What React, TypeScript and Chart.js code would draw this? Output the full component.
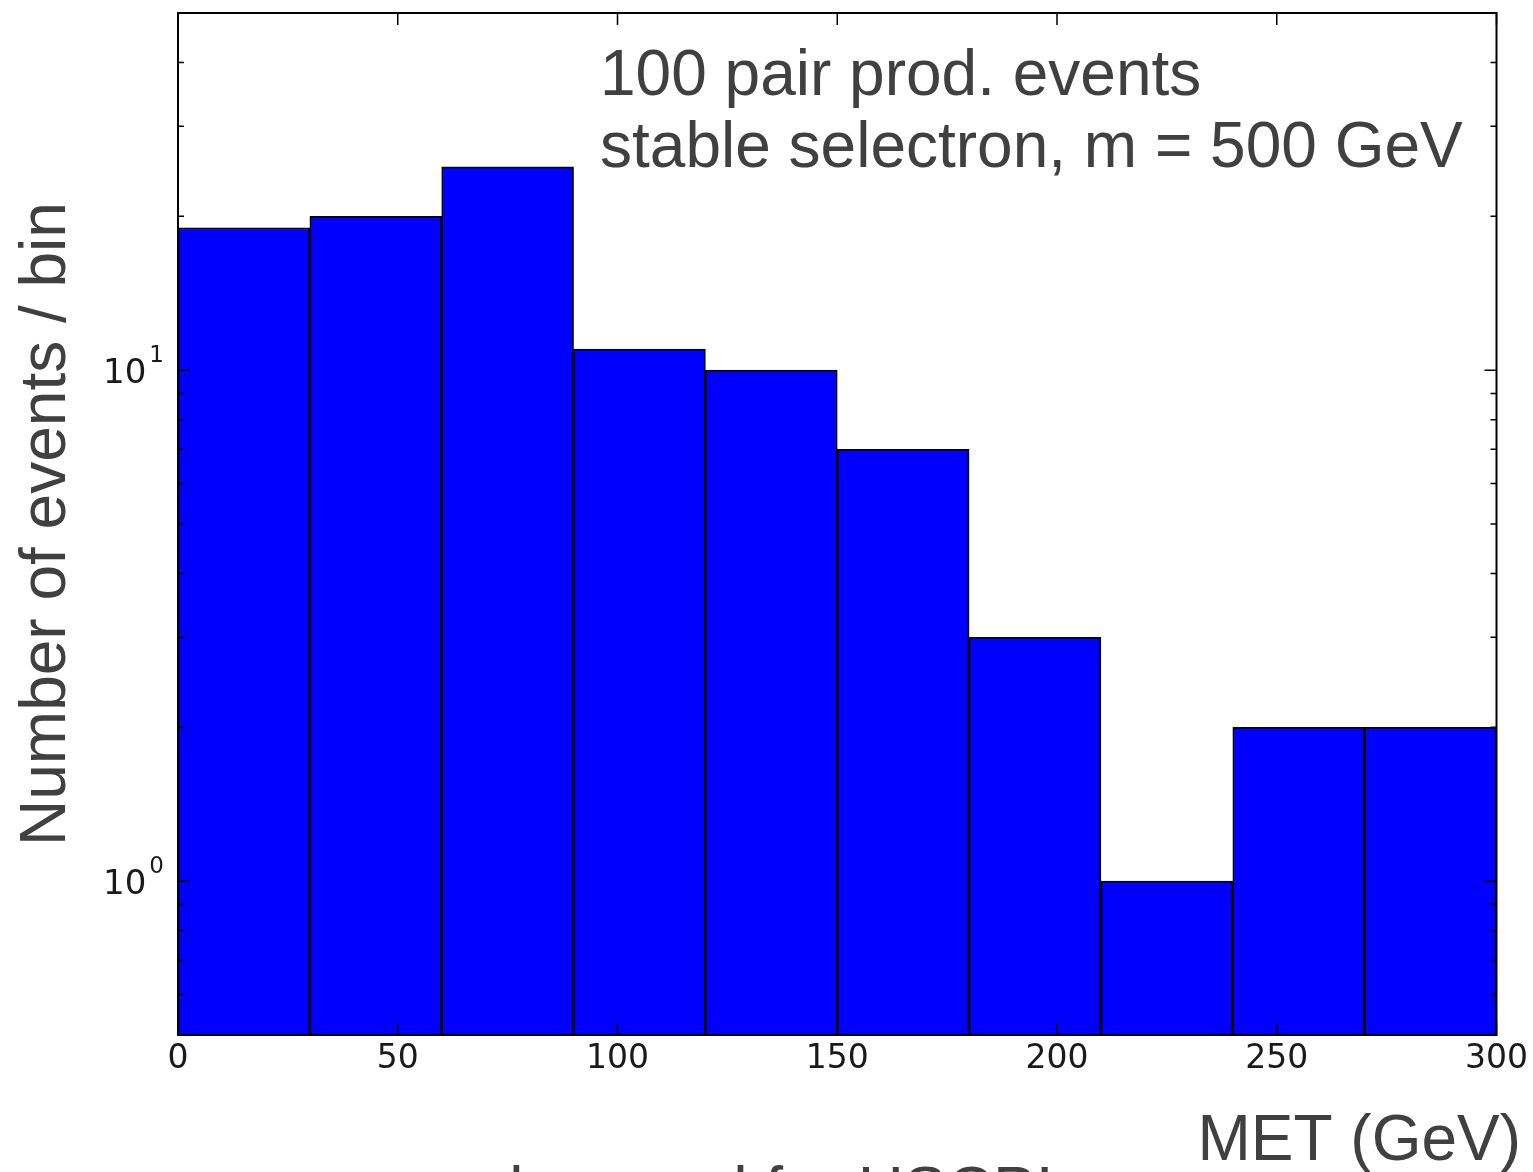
import React, { useEffect, useRef } from 'react';
import { Chart, registerables } from 'chart.js';

Chart.register(...registerables);

// ---- data ----
const binEdges = [0, 30, 60, 90, 120, 150, 180, 210, 240, 270, 300];
const counts = [19, 20, 25, 11, 10, 7, 3, 1, 2, 2];
const xTickValues = [0, 50, 100, 150, 200, 250, 300];
const yMajorTicks = [1, 10];
const yMajorExponents = ['0', '1'];
const yMinorTicks = [0.6, 0.7, 0.8, 0.9, 2, 3, 4, 5, 6, 7, 8, 9, 20, 30, 40];
const annotationLines = ['100 pair prod. events', 'stable selectron, m = 500 GeV'];
const xTitle = 'MET (GeV)';
const yTitle = 'Number of events / bin';
const footerText = 'was also used for HSCP!';

const W = 1533;
const H = 1172;
const TEXT_FONT = '"Liberation Sans", Arial, sans-serif';
const TICK_FONT = '"DejaVu Sans", sans-serif';

const decorPlugin = {
  id: 'decor',
  afterDraw(chart: any) {
    const { ctx, chartArea } = chart;
    const xs = chart.scales.x;
    const ys = chart.scales.y;
    const { left, right, top, bottom } = chartArea;
    ctx.save();

    // frame
    ctx.strokeStyle = '#000';
    ctx.lineWidth = 2;
    ctx.strokeRect(left, top, right - left, bottom - top);

    // x ticks (inward, bottom and top)
    ctx.lineWidth = 1.5;
    ctx.beginPath();
    xTickValues.forEach((v) => {
      const px = xs.getPixelForValue(v);
      ctx.moveTo(px, bottom);
      ctx.lineTo(px, bottom - 12);
      ctx.moveTo(px, top);
      ctx.lineTo(px, top + 12);
    });
    // y major ticks
    yMajorTicks.forEach((v) => {
      const py = ys.getPixelForValue(v);
      ctx.moveTo(left, py);
      ctx.lineTo(left + 12, py);
      ctx.moveTo(right, py);
      ctx.lineTo(right - 12, py);
    });
    // y minor ticks
    yMinorTicks.forEach((v) => {
      const py = ys.getPixelForValue(v);
      ctx.moveTo(left, py);
      ctx.lineTo(left + 6, py);
      ctx.moveTo(right, py);
      ctx.lineTo(right - 6, py);
    });
    ctx.stroke();

    // y tick labels 10^n
    ctx.fillStyle = '#1a1a1a';
    ctx.textBaseline = 'alphabetic';
    yMajorTicks.forEach((v, i) => {
      const py = ys.getPixelForValue(v);
      const supRight = left - 14;
      ctx.font = `23px ${TICK_FONT}`;
      ctx.textAlign = 'right';
      const sw = ctx.measureText(yMajorExponents[i]).width;
      ctx.fillText(yMajorExponents[i], supRight, py - 8);
      ctx.font = `34px ${TICK_FONT}`;
      ctx.fillText('10', supRight - sw - 3, py + 13);
    });

    // annotation
    ctx.fillStyle = '#404040';
    ctx.font = `64px ${TEXT_FONT}`;
    ctx.textAlign = 'left';
    ctx.fillText(annotationLines[0], 600, 95);
    ctx.fillText(annotationLines[1], 600, 167);

    // x title
    ctx.textAlign = 'right';
    ctx.fillText(xTitle, 1521, 1160);

    // footer (cut off by canvas bottom)
    ctx.textAlign = 'left';
    ctx.fillText(footerText, 342, 1212);

    // y title
    ctx.save();
    ctx.translate(65, 524);
    ctx.rotate(-Math.PI / 2);
    ctx.textAlign = 'center';
    ctx.fillText(yTitle, 0, 0);
    ctx.restore();

    ctx.restore();
  },
};

export default function App() {
  const canvasRef = useRef<HTMLCanvasElement | null>(null);

  useEffect(() => {
    const canvas = canvasRef.current;
    if (!canvas) return;
    const data = counts.map((c, i) => ({ x: (binEdges[i] + binEdges[i + 1]) / 2, y: c }));
    const chart = new Chart(canvas, {
      type: 'bar',
      data: {
        datasets: [
          {
            data: data as any,
            backgroundColor: '#0000ff',
            borderColor: '#000000',
            borderWidth: 1.75,
            barPercentage: 1,
            categoryPercentage: 1,
          },
        ],
      },
      options: {
        animation: false,
        responsive: false,
        devicePixelRatio: 1,
        layout: { padding: { left: 178, top: 13, right: 34, bottom: 0 } },
        plugins: {
          legend: { display: false },
          tooltip: { enabled: false },
        },
        scales: {
          x: {
            type: 'linear',
            min: binEdges[0],
            max: binEdges[binEdges.length - 1],
            offset: false,
            grid: { display: false, offset: false, drawTicks: false },
            border: { display: false },
            ticks: {
              stepSize: 50,
              color: '#1a1a1a',
              padding: 5,
              maxRotation: 0,
              autoSkip: false,
              font: { family: 'DejaVu Sans', size: 33 },
              callback: (v: any) => (xTickValues.includes(Number(v)) ? String(v) : ''),
            },
            afterFit: (s: any) => {
              s.height = 137;
            },
          },
          y: {
            type: 'logarithmic',
            display: false,
            min: 0.5,
            max: 50,
          },
        },
      },
      plugins: [decorPlugin],
    });
    return () => chart.destroy();
  }, []);

  return (
    <div style={{ position: 'absolute', left: 0, top: 0, width: W, height: H, background: '#fff' }}>
      <canvas ref={canvasRef} width={W} height={H} style={{ display: 'block', width: W, height: H }} />
    </div>
  );
}
